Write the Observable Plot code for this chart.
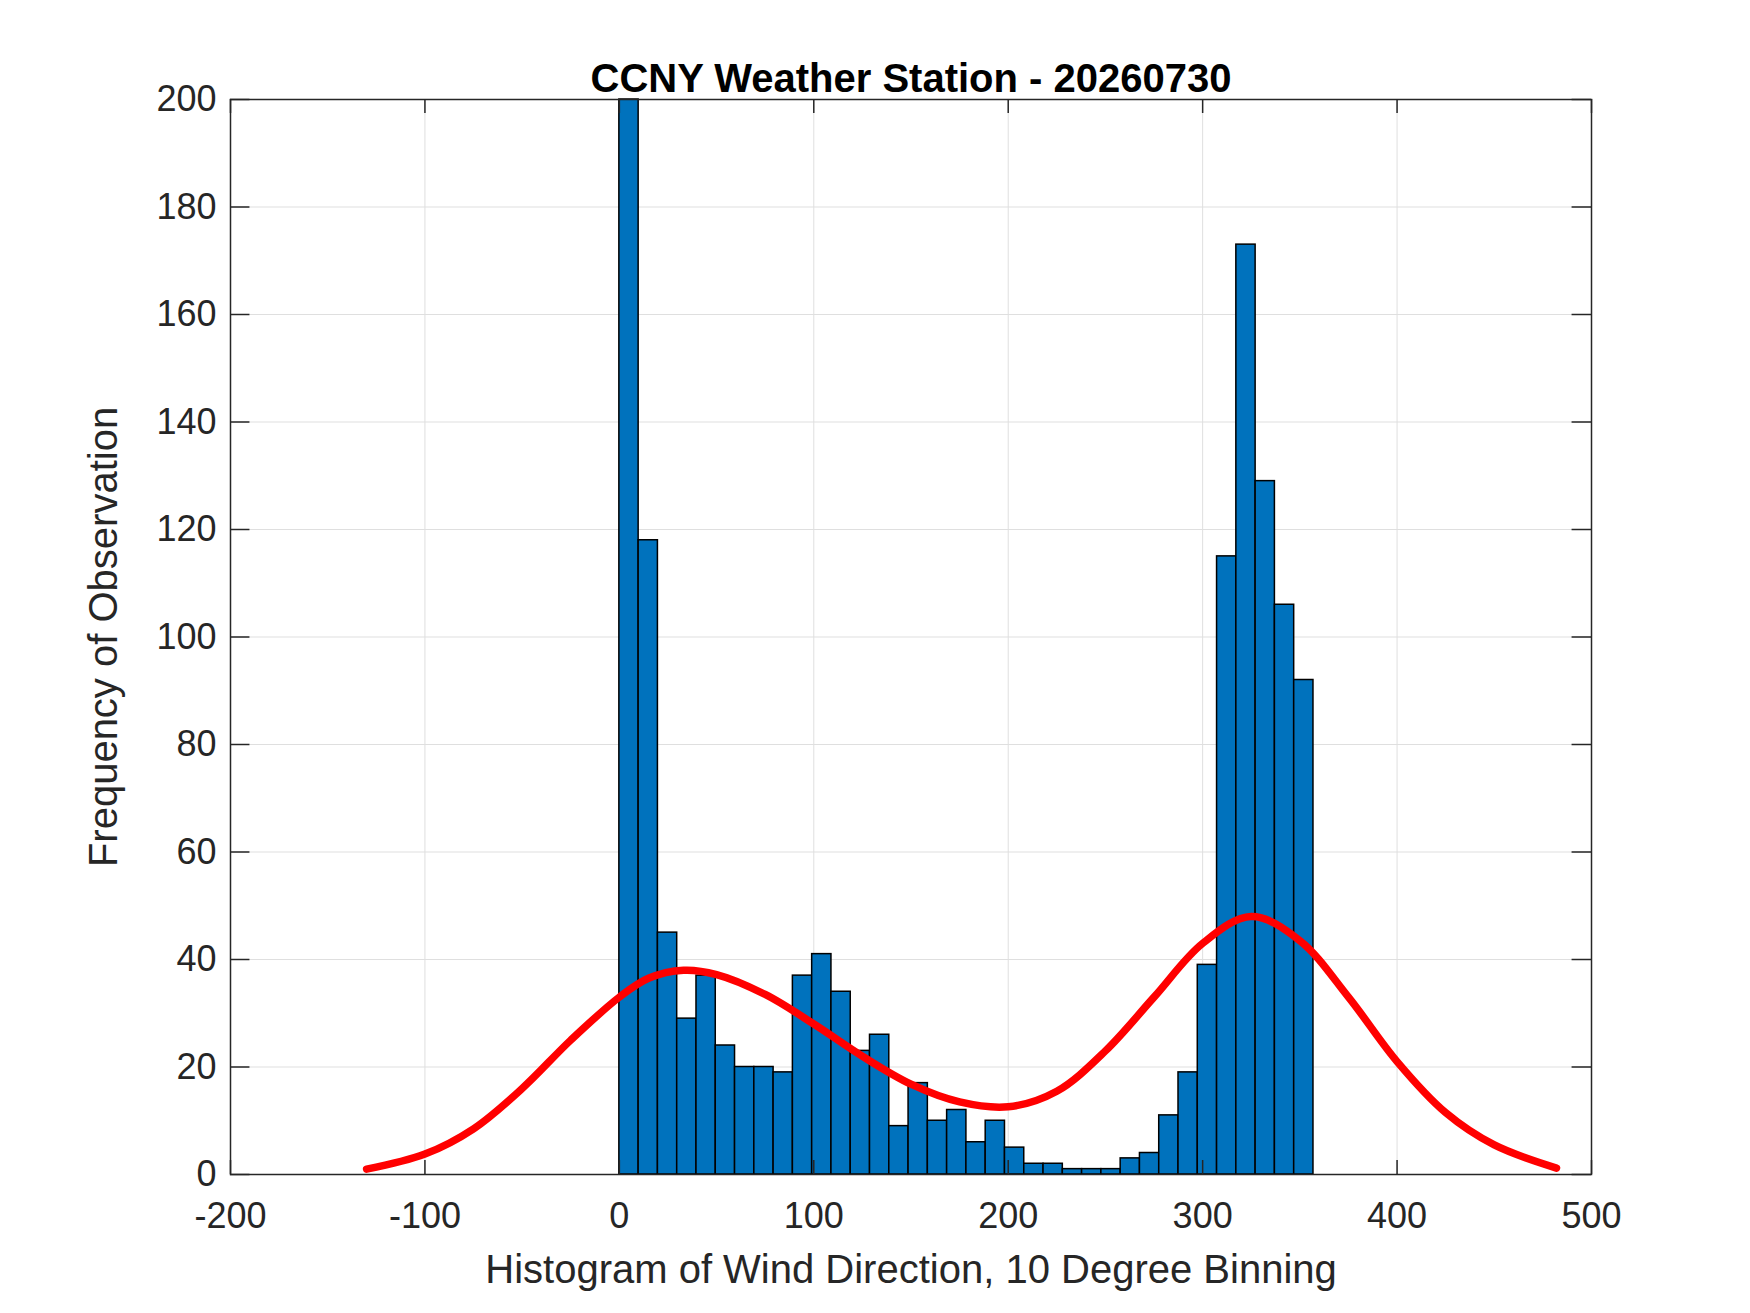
<!DOCTYPE html>
<html><head><meta charset="utf-8">
<script src="https://cdn.jsdelivr.net/npm/d3@7"></script>
<script src="https://cdn.jsdelivr.net/npm/@observablehq/plot@0.6"></script>
<style>body{margin:0;background:#fff}</style>
</head><body><div id="c"></div>
<script>
const binStarts = [0,10,20,30,40,50,60,70,80,90,100,110,120,130,140,150,160,170,180,190,200,210,220,230,240,250,260,270,280,290,300,310,320,330,340,350];
const counts = [230,118,45,29,37,24,20,20,19,37,41,34,23,26,9,17,10,12,6,10,5,2,2,1,1,1,3,4,11,19,39,115,173,129,106,92];
const curveX = [-130,-100,-75,-50,-25,0,15,33,50,75,100,125,150,175,200,225,250,275,300,325,350,375,400,425,450,482];
const curveY = [1,3.8,8.5,16,25,33,36.5,38,37.2,33.5,28,22,16.8,13.5,12.6,15.5,23,33,43,48,43.5,33,21,11.5,5.5,1.2];
const binW = 357/36;
const bars = binStarts.map((s,i)=>({x1:i*binW, x2:(i+1)*binW, y:Math.min(counts[i],200)}));
const curve = curveX.map((x,i)=>({x,y:curveY[i]}));
const xt = d3.range(-200,501,100), yt = d3.range(0,201,20);
const font = "Liberation Sans, Arial, sans-serif";
const ax = "#262626";
const p = Plot.plot({
  width:1750, height:1313,
  marginLeft:230, marginRight:159, marginTop:99, marginBottom:139,
  x:{domain:[-200,500], label:null},
  y:{domain:[0,200], label:null},
  style:{fontFamily:font, fontSize:"36px", color:ax, background:"#fff"},
  marks:[
    Plot.ruleX(xt,{x:d=>d, y1:0, y2:200, stroke:"#dfdfdf"}),
    Plot.ruleY(yt,{y:d=>d, x1:-200, x2:500, stroke:"#dfdfdf"}),
    Plot.rectY(bars,{x1:"x1",x2:"x2",y:"y",fill:"#0072bd",stroke:"#000",strokeWidth:1.5}),
    Plot.line(curve,{x:"x",y:"y",curve:"catmull-rom",stroke:"#ff0000",strokeWidth:7.5}),
    Plot.frame({stroke:ax,strokeWidth:1.5}),
    Plot.ruleX(xt,{x:d=>d, y1:0, y2:2.6, stroke:ax, strokeWidth:1.5}),
    Plot.ruleX(xt,{x:d=>d, y1:197.4, y2:200, stroke:ax, strokeWidth:1.5}),
    Plot.ruleY(yt,{y:d=>d, x1:-200, x2:-190, stroke:ax, strokeWidth:1.5}),
    Plot.ruleY(yt,{y:d=>d, x1:490, x2:500, stroke:ax, strokeWidth:1.5}),
    Plot.axisX(xt,{tickSize:0, tickPadding:28, fontSize:36, fill:ax, tickFormat:d=>String(d)}),
    Plot.axisY(yt,{tickSize:0, tickPadding:14, fontSize:36, fill:ax, tickFormat:d=>String(d)}),
    Plot.text(["Histogram of Wind Direction, 10 Degree Binning"],{frameAnchor:"bottom", dy:108, fontSize:40, fill:ax}),
    Plot.text(["Frequency of Observation"],{frameAnchor:"left", textAnchor:"middle", dx:-126, rotate:-90, fontSize:40, fill:ax}),
    Plot.text(["CCNY Weather Station - 20260730"],{frameAnchor:"top", lineAnchor:"bottom", dy:-8, fontSize:40, fontWeight:"bold", fill:"#000"})
  ]
});
document.getElementById("c").append(p);
</script></body></html>
